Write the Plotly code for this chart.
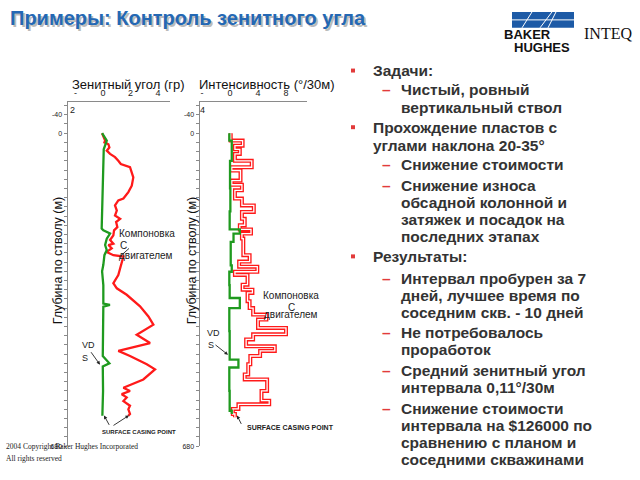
import plotly.graph_objects as go

W, H = 640, 480


def X(px):
    return px / W


def Y(py):
    return 1 - py / H


# ---------------- data ----------------
# Left chart: inclination (deg) vs measured depth (m)
inc_green_depth = [0, 16, 35, 80, 150, 207, 211, 218, 229, 243, 254, 265, 286, 300, 330, 370, 373, 377,
                   430, 484, 500, 507, 560, 614]
inc_green_val = [-0.07, 0.27, 0.05, 0.0, -0.05, -0.1, 0.02, 0.51, 0.27, 0.15, 0.27, 0.1, 0.02, -0.07, 0.02,
                 0.02, 0.5, 0.02, 0.0, -0.02, 0.46, -0.02, 0.0, -0.05]

inc_red_depth = [0, 16, 20, 24, 31, 38, 45, 52, 60, 67, 74, 85, 96, 114, 121, 128, 142, 146, 157, 168,
                 179, 186, 193, 204, 211, 222, 232, 240, 243, 250, 258, 265, 268, 279, 294, 308, 326, 337,
                 351, 376, 398, 416, 438, 456, 473, 484, 502, 513, 535, 553, 560, 567, 574, 582, 592, 600,
                 610, 614]
inc_red_val = [-0.07, 0.15, 0.1, 0.39, 0.46, 0.27, 0.51, 0.87, 1.11, 1.29, 1.96, 2.09, 2.2, 2.09, 1.96, 1.84,
               1.48, 1.11, 0.87, 1.0, 0.87, 1.24, 0.95, 1.04, 0.8, 0.75, 0.51, 0.75, 0.39, 0.63, 0.27, 0.75,
               1.48, 1.36, 1.24, 1.11, 0.75, 1.0, 1.72, 2.69, 3.3, 3.66, 2.45, 3.42, 1.11, 1.96, 3.18, 3.78,
               2.93, 1.48, 1.96, 1.36, 1.72, 1.48, 1.96, 1.84, 1.96, 1.84]

# Right chart: dogleg severity (deg/30m) vs measured depth (m), step curves
dls_green_depth = [0, 16, 60, 120, 170, 209, 218, 236, 287, 301, 330, 358, 380, 430, 492, 509, 560, 603, 610]
dls_green_val = [-0.1, 0.25, 0.0, 0.05, -0.05, 1.4, 0.5, 0.1, 0.25, -0.1, -0.05, 1.4, -0.1, -0.05, 1.2, -0.1,
                 -0.05, 0.25, 0.25]

dls_red_depth = [0, 16, 27, 35, 45, 60, 74, 81, 103, 112, 124, 142, 157, 171, 186, 200, 209, 218, 229, 265,
                 279, 290, 301, 308, 329, 340, 347, 365, 380, 394, 405, 423, 437, 448, 463, 473, 484, 502,
                 524, 535, 560, 581, 589, 599, 610, 617]
dls_red_val = [0.1, 1.8, 0.7, 1.4, 0.7, 3.1, 0.25, 1.5, 0.25, 1.7, 0.7, 1.7, 3.4, 1.7, 2.1, 1.4, 3.0, 1.7, 1.9,
               2.8, 1.3, 3.9, 0.7, 2.5, 1.8, 3.2, 2.5, 2.8, 3.3, 5.2, 4.0, 8.0, 3.3, 2.3, 6.4, 4.3, 2.9, 2.6,
               2.1, 5.3, 4.5, 5.6, 1.2, 0.4, 0.7, 0.7]

depth_tickvals = list(range(-60, 681, 20))
depth_ticktext = [str(v) if v in (-40, 0, 680) else "" for v in depth_tickvals]

inc_tickvals = [-2, 0, 2, 4]
inc_ticktext = ["-", "0", "2", "4"]
dls_tickvals = [-4, 0, 4, 8]
dls_ticktext = ["-", "0", "4", "8"]

RED = "#ff1a1a"
GREEN = "#1f9a1f"
AXC = "#8a8a8a"
TXT = "#333333"

fig = go.Figure()

# left chart
fig.add_trace(go.Scatter(x=inc_red_val, y=inc_red_depth, mode="lines",
                         line=dict(color=RED, width=2.3), xaxis="x", yaxis="y"))
fig.add_trace(go.Scatter(x=inc_green_val, y=inc_green_depth, mode="lines",
                         line=dict(color=GREEN, width=2.3), xaxis="x", yaxis="y"))
# right chart (hollow red step line)
fig.add_trace(go.Scatter(x=dls_red_val, y=dls_red_depth, mode="lines",
                         line=dict(color=RED, width=4.0, shape="vh"), xaxis="x2", yaxis="y2"))
fig.add_trace(go.Scatter(x=dls_red_val, y=dls_red_depth, mode="lines",
                         line=dict(color="white", width=1.3, shape="vh"), xaxis="x2", yaxis="y2"))
fig.add_trace(go.Scatter(x=dls_green_val, y=dls_green_depth, mode="lines",
                         line=dict(color=GREEN, width=2.3, shape="vh"), xaxis="x2", yaxis="y2"))

ydom = [Y(449), Y(103)]
xcommon = dict(side="top", showline=True, linecolor=AXC, linewidth=1.5, showgrid=False,
               zeroline=False, ticks="", tickfont=dict(size=9, color="#222", family="Arial, Liberation Sans"),
               ticklabelstandoff=1, fixedrange=True)
ycommon = dict(autorange=False, range=[680, -67], showline=True, linecolor=AXC, linewidth=1.5,
               showgrid=False, zeroline=False, ticks="outside", ticklen=3, tickcolor=AXC,
               tickvals=depth_tickvals, ticktext=depth_ticktext,
               tickfont=dict(size=7, color="#222", family="Arial, Liberation Sans"), fixedrange=True)

fig.update_layout(
    width=W, height=H, autosize=False,
    margin=dict(l=0, r=0, t=0, b=0, pad=0),
    paper_bgcolor="white", plot_bgcolor="white", showlegend=False,
    xaxis=dict(domain=[X(68), X(170)], range=[-2.55, 4.87], anchor="y",
               tickvals=inc_tickvals, ticktext=inc_ticktext, **xcommon),
    yaxis=dict(domain=ydom, anchor="x", **ycommon),
    xaxis2=dict(domain=[X(200), X(307)], range=[-4.29, 11.0], anchor="y2",
                tickvals=dls_tickvals, ticktext=dls_ticktext, **xcommon),
    yaxis2=dict(domain=ydom, anchor="x2", **ycommon),
)

ann = []
shapes = []
SANS = "Arial, Liberation Sans, sans-serif"


def text(px, py, s, size, color=TXT, xanchor="left", yanchor="middle", family=SANS, angle=0):
    ann.append(dict(x=X(px), y=Y(py), xref="paper", yref="paper", text=s, showarrow=False,
                    xanchor=xanchor, yanchor=yanchor, textangle=angle,
                    font=dict(size=size, color=color, family=family)))


def arrow(hx, hy, tx, ty):
    ann.append(dict(x=X(hx), y=Y(hy), xref="paper", yref="paper", ax=tx - hx, ay=ty - hy,
                    axref="pixel", ayref="pixel", text="", showarrow=True, arrowhead=2,
                    arrowsize=0.8, arrowwidth=0.9, arrowcolor="#222"))


# title with shadow
title = "<b>Примеры: Контроль зенитного угла</b>"
text(10, 20, title, 20, color="rgba(60,60,60,0.35)")
text(8, 18, title, 20, color="#2468b4")

# logo
shapes.append(dict(type="rect", xref="paper", yref="paper", x0=X(512), x1=X(574), y0=Y(28), y1=Y(12),
                   fillcolor="#1d5aa6", line=dict(width=0)))
for (a, b, c, d) in [(522, 28, 532, 12), (540, 28, 552, 12), (548, 28, 556, 12), (512, 20, 574, 20)]:
    shapes.append(dict(type="line", xref="paper", yref="paper", x0=X(a), y0=Y(b), x1=X(c), y1=Y(d),
                       line=dict(color="white", width=1)))
text(502, 35, "<b>BAKER</b>", 13, color="#111", family="Liberation Sans Narrow, Arial Narrow, Arial")
text(512, 48, "<b>HUGHES</b>", 13, color="#111", family="Liberation Sans Narrow, Arial Narrow, Arial")
text(582, 34, "INTEQ", 16, color="#111", family="Liberation Serif, Times New Roman, serif")

# axis titles
text(128, 85, "Зенитный угол (гр)", 13, color="#111", xanchor="center")
text(267, 85, "Интенсивность (°/30м)", 13, color="#111", xanchor="center")
text(58, 262, "Глубина по стволу (м)", 12.5, color="#111", xanchor="center", angle=-90)
text(192, 262, "Глубина по стволу (м)", 12.5, color="#111", xanchor="center", angle=-90)
# wrapped tick label remnants
text(72, 111, "2", 9, color="#222", xanchor="center")
text(202, 111, "4", 9, color="#222", xanchor="center")

# left chart annotations
text(117, 235, "Компоновка", 10, color="#222")
text(118, 247, "С", 10, color="#222")
text(117, 257, "двигателем", 10, color="#222")
shapes.append(dict(type="line", xref="paper", yref="paper", x0=X(119), y0=Y(259), x1=X(129), y1=Y(250),
                   line=dict(color="#222", width=0.9)))
text(80, 347, "VD", 9, color="#222")
text(80, 360, "S", 9, color="#222")
arrow(100, 367, 90, 353)
text(139, 435, "<b>SURFACE CASING POINT</b>", 6, color="#222", xanchor="center")
arrow(104, 418, 110, 429)
arrow(129, 418, 112, 429)

# right chart annotations
text(291, 297, "Компоновка", 10, color="#222", xanchor="center")
text(291, 309, "С", 10, color="#222", xanchor="center")
text(291, 316, "двигателем", 10, color="#222", xanchor="center")
text(205, 335, "VD", 9, color="#222")
text(206, 347, "S", 9, color="#222")
arrow(228, 357, 214, 346)
text(245, 430, "<b>SURFACE CASING POINT</b>", 7, color="#222")
arrow(237, 418, 242, 428)

# copyright
text(4, 449, "2004 Copyright Baker Hughes Incorporated", 7.5, color="#222",
     family="Liberation Serif, Times New Roman, serif")
text(4, 461, "All rights reserved", 7.5, color="#222", family="Liberation Serif, Times New Roman, serif")

# bullet text
lines = [
    (1, True, "Задачи:", 71),
    (2, True, "Чистый, ровный", 90),
    (2, False, "вертикальный ствол", 108),
    (1, True, "Прохождение пластов с", 128),
    (1, False, "углами наклона 20-35°", 146),
    (2, True, "Снижение стоимости", 166),
    (2, True, "Снижение износа", 187),
    (2, False, "обсадной колонной и", 204),
    (2, False, "затяжек и посадок на", 221),
    (2, False, "последних этапах", 238),
    (1, True, "Результаты:", 258),
    (2, True, "Интервал пробурен за 7", 280),
    (2, False, "дней, лучшее время по", 297),
    (2, False, "соседним скв. - 10 дней", 314),
    (2, True, "Не потребовалось", 335),
    (2, False, "проработок", 352),
    (2, True, "Средний зенитный угол", 373),
    (2, False, "интервала 0,11°/30м", 390),
    (2, True, "Снижение стоимости", 411),
    (2, False, "интервала на $126000 по", 428),
    (2, False, "сравнению с планом и", 445),
    (2, False, "соседними скважинами", 462),
]
for level, first, s, yy in lines:
    if level == 1:
        text(371, yy, "<b>" + s + "</b>", 15.5)
        if first:
            shapes.append(dict(type="rect", xref="paper", yref="paper", x0=X(351), x1=X(355),
                               y0=Y(yy + 2), y1=Y(yy - 2), fillcolor="#e23b3b", line=dict(width=0)))
    else:
        text(399, yy, "<b>" + s + "</b>", 15.5)
        if first:
            text(380, yy, "<b>–</b>", 15.5, color="#e23b3b")

fig.update_layout(annotations=ann, shapes=shapes)
fig.write_html("out.html", config={"displayModeBar": False, "staticPlot": True},
               post_script="document.body.style.margin='0';document.body.style.overflow='hidden';")
